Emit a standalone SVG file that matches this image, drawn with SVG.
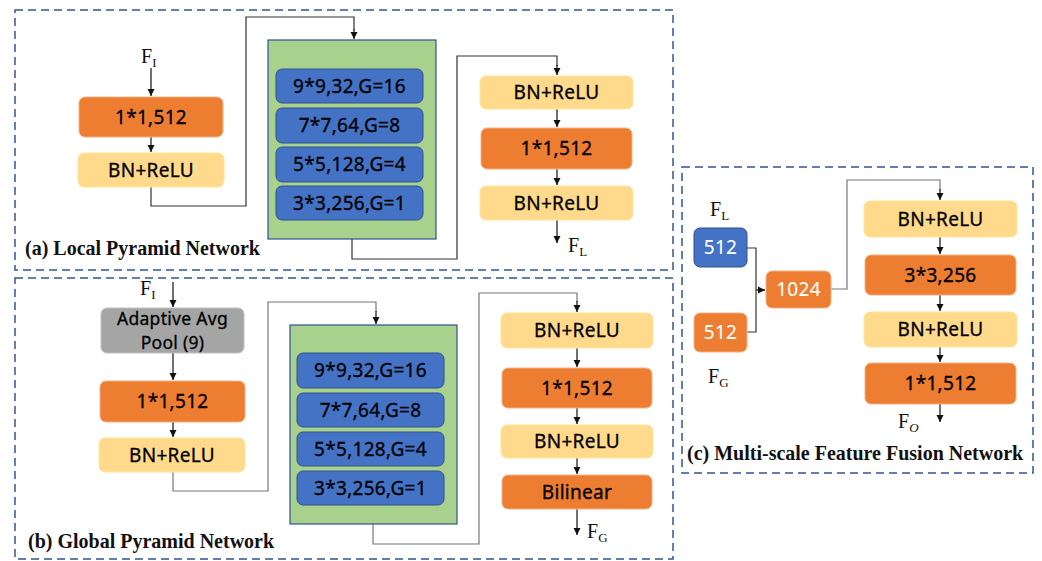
<svg xmlns="http://www.w3.org/2000/svg" width="1042" height="561" viewBox="0 0 1042 561">
<defs>
<style>
.frame{fill:none;stroke:#2F5597;stroke-width:1.5;stroke-dasharray:8 5}
.or{fill:#ED7D31;stroke:#F4B183;stroke-width:1}
.yl{fill:#FFD98C;stroke:#FFE699;stroke-width:1}
.bl{fill:#4472C4;stroke:#2F528F;stroke-width:1}
.gy{fill:#A5A5A5;stroke:#BFBFBF;stroke-width:1}
.gr{fill:#A9D18E;stroke:#2F528F;stroke-width:1.2}
.t{font-family:"Noto Sans","DejaVu Sans",sans-serif;font-size:19px;fill:#000;stroke:#000;stroke-width:0.3;text-anchor:middle;letter-spacing:0.3px}
.tp{font-size:17.5px}
.tw{fill:#fff;stroke:#fff;stroke-width:0.1}
.lab{font-family:"Liberation Serif","Times New Roman",serif;font-size:20px;fill:#111}
.sub{font-size:13px}
.title{font-family:"Liberation Serif","Times New Roman",serif;font-size:20px;font-weight:bold;fill:#111}
.c{fill:none;stroke:#333;stroke-width:1.2}
.cg{fill:none;stroke:#777;stroke-width:1.2}
.a{fill:none;stroke:#111;stroke-width:1.2;marker-end:url(#ah)}
</style>
<marker id="ah" markerUnits="userSpaceOnUse" markerWidth="8" markerHeight="8" refX="7" refY="4" orient="auto">
<path d="M0,0.5 L7,4 L0,7.5 z" fill="#111"/>
</marker>
</defs>

<!-- frames -->
<rect class="frame" x="15" y="10" width="658" height="260"/>
<rect class="frame" x="15" y="278" width="658" height="281"/>
<rect class="frame" x="682" y="167" width="351" height="306"/>

<!-- connectors -->
<g id="connectors">
<!-- (a) -->
<line class="a" x1="151" y1="68" x2="151" y2="96"/>
<line class="a" x1="151" y1="137" x2="151" y2="152"/>
<polyline class="c" points="151,187 151,206 246,206 246,17 354,17 354,30"/>
<line class="a" x1="354" y1="29" x2="354" y2="39"/>
<polyline class="c" points="352,239 352,259 457,259 457,56 557,56 557,66"/>
<line class="a" x1="557" y1="65" x2="557" y2="75"/>
<line class="a" x1="557" y1="109" x2="557" y2="127"/>
<line class="a" x1="557" y1="169" x2="557" y2="185"/>
<line class="a" x1="557" y1="220" x2="557" y2="243"/>
<!-- (b) -->
<line class="a" x1="173" y1="282" x2="173" y2="307"/>
<line class="a" x1="173" y1="353" x2="173" y2="380"/>
<line class="a" x1="173" y1="422" x2="173" y2="437"/>
<polyline class="cg" points="173,472 173,491 268,491 268,302 376,302 376,312"/>
<line class="a" x1="376" y1="311" x2="376" y2="324"/>
<polyline class="cg" points="373,524 373,544 479,544 479,293 577,293 577,302"/>
<line class="a" x1="577" y1="301" x2="577" y2="312"/>
<line class="a" x1="577" y1="348" x2="577" y2="367"/>
<line class="a" x1="577" y1="408" x2="577" y2="424"/>
<line class="a" x1="577" y1="458" x2="577" y2="474"/>
<line class="a" x1="577" y1="509" x2="577" y2="535"/>
<!-- (c) -->
<polyline class="c" points="747,248 756,248 756,332 747,332"/>
<line class="a" x1="756" y1="290" x2="765" y2="290"/>
<polyline class="cg" points="831,289 847,289 847,180 940,180 940,190"/>
<line class="a" x1="940" y1="189" x2="940" y2="200"/>
<line class="a" x1="940" y1="237" x2="940" y2="254"/>
<line class="a" x1="940" y1="295" x2="940" y2="311"/>
<line class="a" x1="940" y1="347" x2="940" y2="362"/>
<line class="a" x1="940" y1="404" x2="940" y2="422"/>
</g>

<!-- (a) Local Pyramid Network -->
<g id="a-in"><text class="lab" x="141" y="63">F<tspan class="sub" dy="4">I</tspan></text></g>
<g id="a-conv1"><rect class="or" x="79" y="97" width="144" height="40" rx="6"/><text class="t" x="151" y="124">1*1,512</text></g>
<g id="a-bn1"><rect class="yl" x="78" y="153" width="146" height="34" rx="6"/><text class="t" x="151" y="177">BN+ReLU</text></g>
<g id="a-pyr">
<rect class="gr" x="268" y="40" width="168" height="199"/>
<rect class="bl" x="276" y="69" width="147" height="34" rx="6"/><text class="t" x="349.5" y="93">9*9,32,G=16</text>
<rect class="bl" x="276" y="108" width="147" height="35" rx="6"/><text class="t" x="349.5" y="132">7*7,64,G=8</text>
<rect class="bl" x="276" y="147" width="147" height="35" rx="6"/><text class="t" x="349.5" y="171">5*5,128,G=4</text>
<rect class="bl" x="276" y="186" width="147" height="34" rx="6"/><text class="t" x="349.5" y="210">3*3,256,G=1</text>
</g>
<g id="a-bn2"><rect class="yl" x="480" y="76" width="153" height="33" rx="6"/><text class="t" x="556.5" y="99">BN+ReLU</text></g>
<g id="a-conv2"><rect class="or" x="481" y="128" width="151" height="41" rx="6"/><text class="t" x="556.5" y="155">1*1,512</text></g>
<g id="a-bn3"><rect class="yl" x="480" y="186" width="153" height="34" rx="6"/><text class="t" x="556.5" y="210">BN+ReLU</text></g>
<g id="a-out"><text class="lab" x="568" y="252">F<tspan class="sub" dy="4">L</tspan></text></g>
<text class="title" x="25" y="255">(a) Local Pyramid Network</text>

<!-- (b) Global Pyramid Network -->
<g id="b-in"><text class="lab" x="140" y="295">F<tspan class="sub" dy="4">I</tspan></text></g>
<g id="b-pool"><rect class="gy" x="101" y="308" width="143" height="45" rx="6"/><text class="t tp" x="172.5" y="325">Adaptive Avg</text><text class="t tp" x="172.5" y="349">Pool (9)</text></g>
<g id="b-conv1"><rect class="or" x="100" y="381" width="145" height="41" rx="6"/><text class="t" x="172.5" y="408">1*1,512</text></g>
<g id="b-bn1"><rect class="yl" x="99" y="438" width="146" height="34" rx="6"/><text class="t" x="172" y="462">BN+ReLU</text></g>
<g id="b-pyr">
<rect class="gr" x="290" y="325" width="167" height="199"/>
<rect class="bl" x="297" y="353" width="147" height="35" rx="6"/><text class="t" x="370.5" y="377">9*9,32,G=16</text>
<rect class="bl" x="297" y="393" width="147" height="34" rx="6"/><text class="t" x="370.5" y="417">7*7,64,G=8</text>
<rect class="bl" x="297" y="432" width="147" height="34" rx="6"/><text class="t" x="370.5" y="456">5*5,128,G=4</text>
<rect class="bl" x="297" y="471" width="147" height="34" rx="6"/><text class="t" x="370.5" y="495">3*3,256,G=1</text>
</g>
<g id="b-bn2"><rect class="yl" x="501" y="313" width="152" height="35" rx="6"/><text class="t" x="577" y="337">BN+ReLU</text></g>
<g id="b-conv2"><rect class="or" x="502" y="368" width="150" height="40" rx="6"/><text class="t" x="577" y="395">1*1,512</text></g>
<g id="b-bn3"><rect class="yl" x="501" y="425" width="152" height="33" rx="6"/><text class="t" x="577" y="448">BN+ReLU</text></g>
<g id="b-bil"><rect class="or" x="502" y="475" width="150" height="34" rx="6"/><text class="t" x="577" y="499">Bilinear</text></g>
<g id="b-out"><text class="lab" x="587" y="538">F<tspan class="sub" dy="4">G</tspan></text></g>
<text class="title" x="28" y="548">(b) Global Pyramid Network</text>

<!-- (c) Multi-scale Feature Fusion Network -->
<g id="c-fl"><text class="lab" x="710" y="216">F<tspan class="sub" dy="4">L</tspan></text></g>
<g id="c-512a"><rect class="bl" x="694" y="228" width="53" height="39" rx="6"/><text class="t tw" x="720.5" y="254">512</text></g>
<g id="c-512b"><rect class="or" x="694" y="313" width="53" height="39" rx="6"/><text class="t tw" x="720.5" y="339">512</text></g>
<g id="c-fg"><text class="lab" x="708" y="383">F<tspan class="sub" dy="4">G</tspan></text></g>
<g id="c-cat"><rect class="or" x="766" y="271" width="65" height="37" rx="6"/><text class="t tw" x="798.5" y="296">1024</text></g>
<g id="c-bn1"><rect class="yl" x="864" y="201" width="153" height="36" rx="6"/><text class="t" x="940.5" y="226">BN+ReLU</text></g>
<g id="c-conv1"><rect class="or" x="865" y="255" width="151" height="40" rx="6"/><text class="t" x="940.5" y="282">3*3,256</text></g>
<g id="c-bn2"><rect class="yl" x="864" y="312" width="153" height="35" rx="6"/><text class="t" x="940.5" y="336">BN+ReLU</text></g>
<g id="c-conv2"><rect class="or" x="865" y="363" width="151" height="41" rx="6"/><text class="t" x="940.5" y="390">1*1,512</text></g>
<g id="c-out"><text class="lab" x="898" y="428">F<tspan class="sub" dy="4" font-style="italic">O</tspan></text></g>
<text class="title" x="687" y="460">(c) Multi-scale Feature Fusion Network</text>
</svg>
